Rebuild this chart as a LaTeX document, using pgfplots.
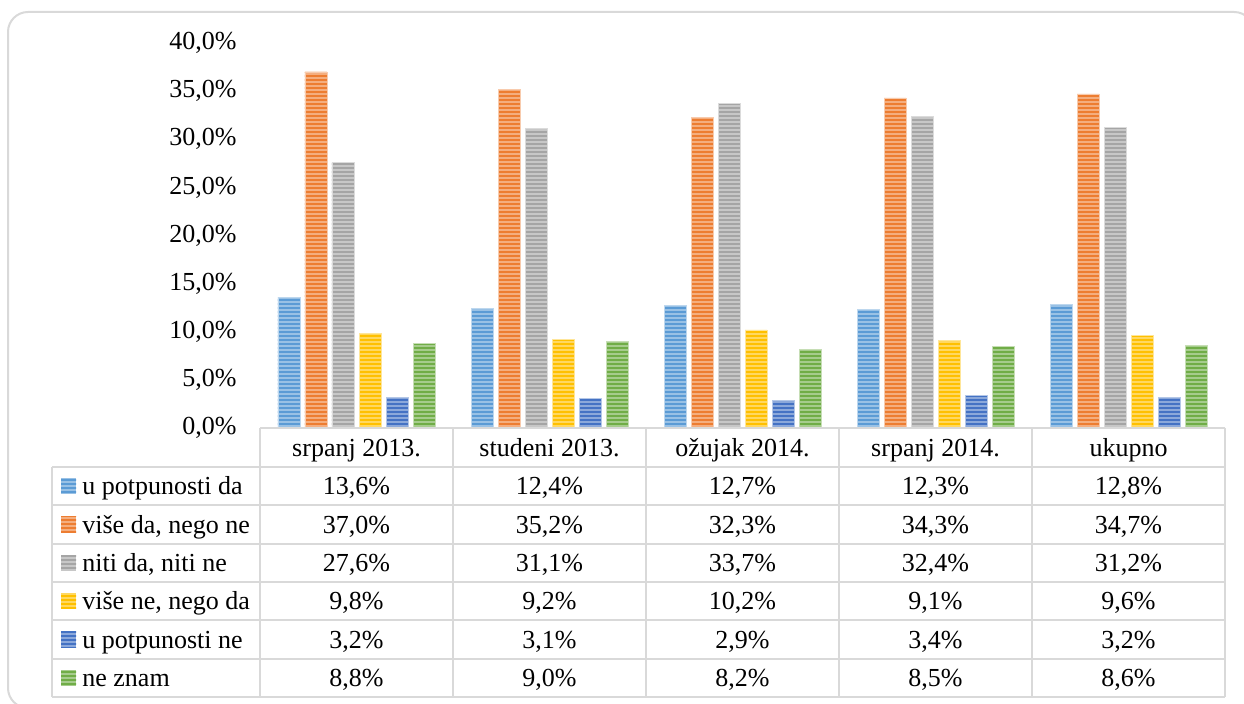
\documentclass[border=0pt]{standalone}
\usepackage{fontspec}
\setmainfont{Liberation Serif}
\usepackage{pgfplots}
\pgfplotsset{compat=1.18}
\usetikzlibrary{patterns.meta}
\definecolor{cA}{HTML}{5B9BD5}
\definecolor{cB}{HTML}{ED7D31}
\definecolor{cC}{HTML}{A5A5A5}
\definecolor{cD}{HTML}{FFC000}
\definecolor{cE}{HTML}{4472C4}
\definecolor{cF}{HTML}{70AD47}
\definecolor{gridgray}{HTML}{D9D9D9}
\newcommand\tf{\fontsize{13}{15}\selectfont}
\tikzset{bstyle/.style={fill=#1!62!white, draw=#1!40!white, line width=0.3pt,
  postaction={pattern color=#1, pattern={Lines[angle=0,distance=2pt,line width=1pt]}}}}
\begin{document}
\begin{tikzpicture}[x=1pt,y=1pt]
\useasboundingbox (0,0) rectangle (622,352);
\draw[gridgray, line width=1pt, rounded corners=10pt] (4,-2) rectangle (627,346);
\begin{axis}[
  at={(130pt,138pt)}, anchor=south west, scale only axis,
  width=482.5pt, height=192.5pt,
  xmin=-0.5, xmax=4.5, ymin=0, ymax=40,
  ybar=2.5pt, bar width=11pt,
  axis line style={draw=none},
  xtick=\empty,
  ytick={0,5,10,15,20,25,30,35,40},
  yticklabels={{0,0\%},{5,0\%},{10,0\%},{15,0\%},{20,0\%},{25,0\%},{30,0\%},{35,0\%},{40,0\%}},
  major tick length=0pt,
  yticklabel style={font=\tf, inner sep=0pt, xshift=-11.5pt},
  clip=false,
]
\addplot[bstyle=cA] coordinates {(0,13.6) (1,12.4) (2,12.7) (3,12.3) (4,12.8)};
\addplot[bstyle=cB] coordinates {(0,37.0) (1,35.2) (2,32.3) (3,34.3) (4,34.7)};
\addplot[bstyle=cC] coordinates {(0,27.6) (1,31.1) (2,33.7) (3,32.4) (4,31.2)};
\addplot[bstyle=cD] coordinates {(0,9.8) (1,9.2) (2,10.2) (3,9.1) (4,9.6)};
\addplot[bstyle=cE] coordinates {(0,3.2) (1,3.1) (2,2.9) (3,3.4) (4,3.2)};
\addplot[bstyle=cF] coordinates {(0,8.8) (1,9.0) (2,8.2) (3,8.5) (4,8.6)};
\end{axis}
% data table grid
\begin{scope}[gridgray, line width=1pt]
\draw (130,138) -- (612.5,138);
\foreach \yy in {118.5,99.5,80,61,42,22.5,3.5} \draw (26,\yy) -- (612.5,\yy);
\draw (26,118.5) -- (26,3.5);
\foreach \xx in {130,226.5,323,419.5,516,612.5} \draw (\xx,138) -- (\xx,3.5);
\end{scope}
% header
\foreach \xx/\t in {178.25/srpanj 2013., 274.75/studeni 2013., 371.25/ožujak 2014., 467.75/srpanj 2014., 564.25/ukupno}
  \node[font=\tf, anchor=base, inner sep=0pt] at (\xx,123.8) {\t};
% row labels with keys
\foreach \yc/\c/\t in {109/cA/u potpunosti da, 89.75/cB/{više da, nego ne}, 70.5/cC/{niti da, niti ne}, 51.5/cD/{više ne, nego da}, 32.25/cE/u potpunosti ne, 13/cF/ne znam}{
  \fill[\c!62!white] (30.5,\yc-3.8) rectangle (38,\yc+3.8);
  \fill[pattern color=\c, pattern={Lines[angle=0,distance=2pt,line width=1pt]}] (30.5,\yc-3.8) rectangle (38,\yc+3.8);
  \node[font=\tf, anchor=base west, inner sep=0pt] at (41,\yc-4.4) {\t};
}
% values
\foreach \yc/\a/\b/\cc/\d/\e in {
  109/{13,6}/{12,4}/{12,7}/{12,3}/{12,8},
  89.75/{37,0}/{35,2}/{32,3}/{34,3}/{34,7},
  70.5/{27,6}/{31,1}/{33,7}/{32,4}/{31,2},
  51.5/{9,8}/{9,2}/{10,2}/{9,1}/{9,6},
  32.25/{3,2}/{3,1}/{2,9}/{3,4}/{3,2},
  13/{8,8}/{9,0}/{8,2}/{8,5}/{8,6}}{
  \node[font=\tf, anchor=base, inner sep=0pt] at (178.25,\yc-4.4) {\a\%};
  \node[font=\tf, anchor=base, inner sep=0pt] at (274.75,\yc-4.4) {\b\%};
  \node[font=\tf, anchor=base, inner sep=0pt] at (371.25,\yc-4.4) {\cc\%};
  \node[font=\tf, anchor=base, inner sep=0pt] at (467.75,\yc-4.4) {\d\%};
  \node[font=\tf, anchor=base, inner sep=0pt] at (564.25,\yc-4.4) {\e\%};
}
\end{tikzpicture}
\end{document}
